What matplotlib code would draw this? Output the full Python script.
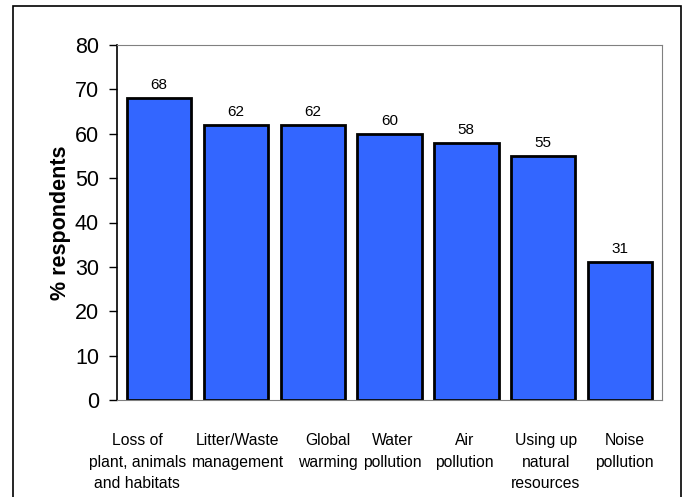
import numpy as np
import matplotlib.pyplot as plt
from matplotlib.patches import Rectangle

plt.rcParams.update({
    "font.family": ["Liberation Sans", "DejaVu Sans"],
})

categories = ["Loss of\nplant, animals\nand habitats", "Litter/Waste\nmanagement",
              "Global\nwarming", "Water\npollution", "Air\npollution",
              "Using up\nnatural\nresources", "Noise\npollution"]
values = [68, 62, 62, 60, 58, 55, 31]

# small sideways nudges of the category labels (pixels), as in the source chart
label_dx = [-22, 2, 15, 3, -2, 3, 5]

fig = plt.figure(figsize=(6.87, 4.97), dpi=100)
ax = fig.add_axes([117/687, 1 - 400/497, (662 - 117)/687, (400 - 45)/497])

x = np.arange(len(values))
ax.bar(x, values, width=0.84, color="#3366FF", edgecolor="black", linewidth=2)

for xi, v in zip(x, values):
    ax.annotate(str(v), (xi, v), xytext=(0, 9), textcoords="offset pixels",
                ha="center", va="baseline", fontsize=11)

ax.set_xlim(-0.55, len(values) - 0.45)
ax.set_ylim(0, 80)
ax.set_yticks(range(0, 81, 10))
ax.tick_params(axis="y", labelsize=15.5, length=6, width=1, direction="out", pad=7)
ax.set_xticks([])

for xi, lab, dx in zip(x, categories, label_dx):
    ax.annotate(lab, (xi, 0), xycoords=("data", "axes fraction"),
                xytext=(dx, -33), textcoords="offset pixels",
                ha="center", va="top", fontsize=11.3, linespacing=1.55,
                annotation_clip=False)

ax.set_ylabel("% respondents", fontsize=15.5, fontweight="bold", labelpad=3)

for side in ["top", "right", "bottom"]:
    ax.spines[side].set_color("#808080")
    ax.spines[side].set_linewidth(0.8)
ax.spines["left"].set_linewidth(1.2)

# outer frame round the figure
fig.patches.append(Rectangle((13/687, -0.01), (681 - 13)/687, 1 - 6/497 + 0.01,
                             transform=fig.transFigure, fill=False,
                             edgecolor="black", linewidth=1.2))

fig.savefig("out.png", dpi=100)
